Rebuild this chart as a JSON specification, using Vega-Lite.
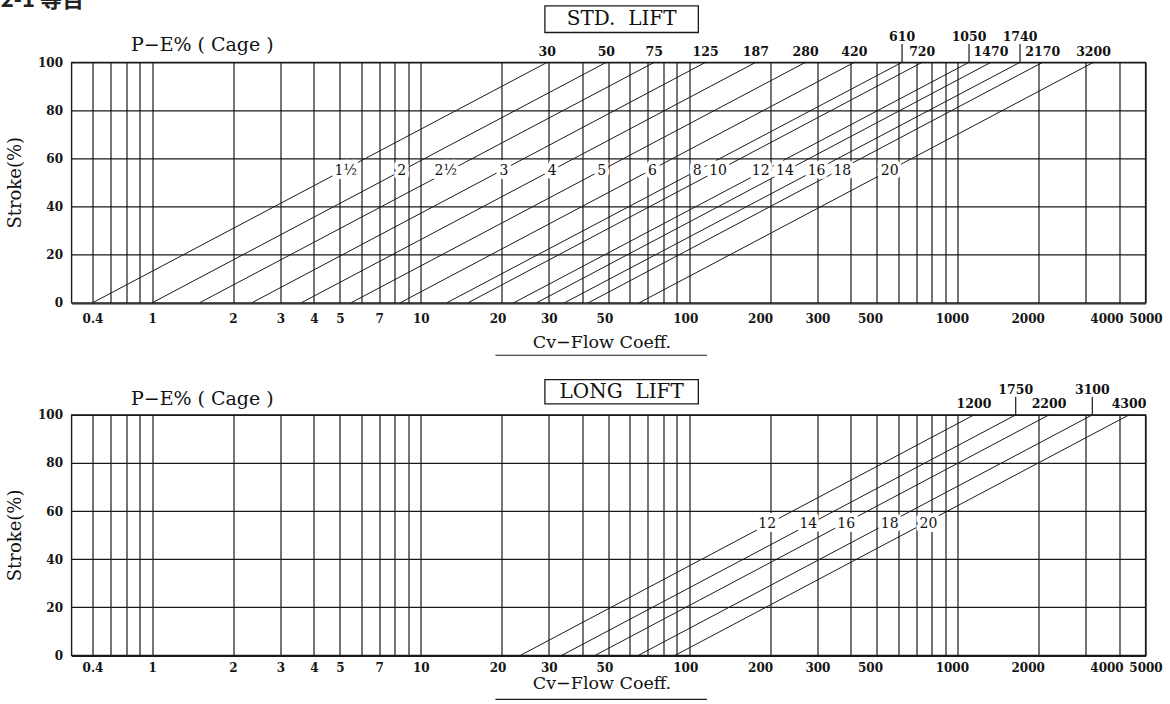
{
  "$schema": "https://vega.github.io/schema/vega-lite/v6.json",
  "padding": {"left": -0.5, "top": -11.7, "right": 0, "bottom": 0},
  "bounds": "flush",
  "spacing": 111.6,
  "config": {
    "view": {"stroke": "#1a1a1a", "strokeWidth": 1.4},
    "font": "DejaVu Serif",
    "axis": {"grid": true, "gridColor": "#1a1a1a", "gridWidth": 1.2, "gridOpacity": 1, "ticks": false, "tickSize": 0, "domain": false,
      "labelFont": "DejaVu Serif", "labelFontSize": 12, "labelFontWeight": "bold", "labelColor": "#151515", "titleFont": "DejaVu Serif", "titleFontSize": 18,
      "titleFontWeight": "normal", "titleColor": "#111", "labelOverlap": false, "labelBound": false, "labelFlush": false},
    "text": {"font": "DejaVu Serif", "color": "#111"}
  },
  "datasets": {
    "std": [
      {"size": "1½", "cv0": 0.4, "cvTop": 29.6, "cvmax": "30", "tier": "low", "lx": 5.26},
      {"size": "2", "cv0": 1.0, "cvTop": 49.1, "cvmax": "50", "tier": "low", "lx": 8.5},
      {"size": "2½", "cv0": 1.5, "cvTop": 74.1, "cvmax": "75", "tier": "low", "lx": 12.4},
      {"size": "3", "cv0": 2.35, "cvTop": 115, "cvmax": "125", "tier": "low", "lx": 20.4},
      {"size": "4", "cv0": 3.59, "cvTop": 177, "cvmax": "187", "tier": "low", "lx": 30.9},
      {"size": "5", "cv0": 5.5, "cvTop": 271, "cvmax": "280", "tier": "low", "lx": 47.2},
      {"size": "6", "cv0": 8.38, "cvTop": 412, "cvmax": "420", "tier": "low", "lx": 72.9},
      {"size": "8", "cv0": 12.5, "cvTop": 620, "cvmax": "610", "tier": "high", "lx": 107},
      {"size": "10", "cv0": 15.0, "cvTop": 737, "cvmax": "720", "tier": "low", "lx": 128},
      {"size": "12", "cv0": 22.2, "cvTop": 1101, "cvmax": "1050", "tier": "high", "lx": 184.5},
      {"size": "14", "cv0": 27.0, "cvTop": 1329, "cvmax": "1470", "tier": "low", "lx": 227},
      {"size": "16", "cv0": 34.3, "cvTop": 1705, "cvmax": "1740", "tier": "high", "lx": 298},
      {"size": "18", "cv0": 42.1, "cvTop": 2071, "cvmax": "2170", "tier": "low", "lx": 371.5},
      {"size": "20", "cv0": 65.1, "cvTop": 3202, "cvmax": "3200", "tier": "low", "lx": 558}
    ],
    "long": [
      {"size": "12", "cv0": 23.5, "cvTop": 1149, "cvmax": "1200", "tier": "low", "lx": 195},
      {"size": "14", "cv0": 33.5, "cvTop": 1643, "cvmax": "1750", "tier": "high", "lx": 277.5},
      {"size": "16", "cv0": 44.6, "cvTop": 2186, "cvmax": "2200", "tier": "low", "lx": 384},
      {"size": "18", "cv0": 64.6, "cvTop": 3169, "cvmax": "3100", "tier": "high", "lx": 558},
      {"size": "20", "cv0": 88.5, "cvTop": 4341, "cvmax": "4300", "tier": "low", "lx": 777}
    ]
  },
  "vconcat": [
    {
      "width": 1074, "height": 240.5,
      "data": {"name": "std"},
      "layer": [
        {"mark": {"type": "rule", "color": "#1a1a1a", "strokeWidth": 1},
         "encoding": {
           "x": {"field": "cv0", "type": "quantitative",
             "scale": {"type": "log", "domain": [0.3, 0.4, 0.5, 0.6, 0.8, 1, 5000], "range": [0, 21, 39, 54.7, 68.4, 80.7, 1074], "nice": false},
             "axis": {"values": [0.4,0.5,0.6,0.8,1,2,3,4,5,6,7,8,9,10,20,30,40,50,60,70,80,90,100,200,300,400,500,600,700,800,900,1000,2000,3000,4000,5000],
               "format": "~g",
               "labelExpr": "indexof([0.4,1,2,3,4,5,7,10,20,30,50,100,200,300,500,1000,2000,4000,5000], datum.value) >= 0 ? datum.label : ''",
               "labelBaseline": "middle", "labelPadding": 15.6,
               "labelOffset": {"condition": [
                 {"test": "datum.value == 200", "value": -10},
                 {"test": "datum.value == 500", "value": -7},
                 {"test": "datum.value == 1000", "value": -6},
                 {"test": "datum.value == 2000", "value": -11},
                 {"test": "datum.value == 4000", "value": -13},
                 {"test": "datum.value == 100 || datum.value == 50 || datum.value == 20", "value": -4}
               ], "value": 0},
               "title": "Cv−Flow Coeff.", "titleFontSize": 17.5, "titleX": 530, "titleY": 39.5, "titleBaseline": "middle", "titleAlign": "center"}},
           "x2": {"field": "cvTop"},
           "y": {"datum": 0, "type": "quantitative", "scale": {"domain": [0, 100], "nice": false, "zero": false},
             "axis": {"values": [0,10,20,30,40,50,60,70,80,90,100], "labelExpr": "datum.value % 20 == 0 ? datum.label : ''",
               "labelPadding": 9, "title": "Stroke(%)", "titleX": -56, "titleY": 120, "titleAngle": -90, "titleBaseline": "middle", "titleAlign": "center"}},
           "y2": {"datum": 100}
         }},
        {"transform": [{"filter": "datum.tier == 'low'"}],
         "mark": {"type": "text", "fontSize": 12.5, "fontWeight": "bold", "baseline": "middle"},
         "encoding": {"x": {"field": "cvTop", "type": "quantitative"}, "y": {"datum": 104.2}, "text": {"field": "cvmax", "type": "nominal"}}},
        {"transform": [{"filter": "datum.tier == 'high'"}],
         "mark": {"type": "text", "fontSize": 12.5, "fontWeight": "bold", "baseline": "middle"},
         "encoding": {"x": {"field": "cvTop", "type": "quantitative"}, "y": {"datum": 110.4}, "text": {"field": "cvmax", "type": "nominal"}}},
        {"transform": [{"filter": "datum.tier == 'high'"}],
         "mark": {"type": "rule", "color": "#1a1a1a", "strokeWidth": 1.2},
         "encoding": {"x": {"field": "cvTop", "type": "quantitative"}, "y": {"datum": 100}, "y2": {"datum": 107.6}}},
        {"mark": {"type": "text", "fontSize": 14, "baseline": "middle", "stroke": "white", "strokeWidth": 8, "strokeJoin": "round", "color": "white"},
         "encoding": {"x": {"field": "lx", "type": "quantitative"}, "y": {"datum": 54.6}, "text": {"field": "size", "type": "nominal"}}},
        {"mark": {"type": "text", "fontSize": 14, "baseline": "middle"},
         "encoding": {"x": {"field": "lx", "type": "quantitative"}, "y": {"datum": 54.6}, "text": {"field": "size", "type": "nominal"}}},
        {"data": {"values": [{"box": "STD.  LIFT"}]},
         "mark": {"type": "rect", "fill": "white", "stroke": "#1a1a1a", "strokeWidth": 1.3},
         "encoding": {"x": {"datum": 29.0}, "x2": {"datum": 108.1}, "y": {"datum": 112.4}, "y2": {"datum": 123.5}}},
        {"data": {"values": [{"box": "STD.  LIFT"}]},
         "mark": {"type": "text", "fontSize": 20, "baseline": "middle"},
         "encoding": {"x": {"datum": 56.0}, "y": {"datum": 117.9}, "text": {"value": "STD.\u00a0\u00a0LIFT"}}},
        {"data": {"values": [{"t": "P−E% ( Cage )"}]},
         "mark": {"type": "text", "fontSize": 19, "baseline": "middle"},
         "encoding": {"x": {"datum": 1.537}, "y": {"datum": 107.1}, "text": {"field": "t", "type": "nominal"}}},
        {"data": {"values": [{"t": "2-1 等百"}]},
         "mark": {"type": "text", "font": "Noto Sans CJK SC", "fontSize": 22, "fontWeight": "bold", "baseline": "alphabetic", "align": "left", "color": "#222"},
         "encoding": {"x": {"datum": 0.114}, "y": {"datum": 122.9}, "text": {"field": "t", "type": "nominal"}}},
        {"data": {"values": [{"u": 1}]},
         "mark": {"type": "rule", "color": "#1a1a1a", "strokeWidth": 1.2},
         "encoding": {"x": {"datum": 18.97}, "x2": {"datum": 116.4}, "y": {"datum": -21.8}}}
      ]
    },
    {
      "width": 1074, "height": 240.5,
      "data": {"name": "long"},
      "layer": [
        {"mark": {"type": "rule", "color": "#1a1a1a", "strokeWidth": 1},
         "encoding": {
           "x": {"field": "cv0", "type": "quantitative",
             "scale": {"type": "log", "domain": [0.3, 0.4, 0.5, 0.6, 0.8, 1, 5000], "range": [0, 21, 39, 54.7, 68.4, 80.7, 1074], "nice": false},
             "axis": {"values": [0.4,0.5,0.6,0.8,1,2,3,4,5,6,7,8,9,10,20,30,40,50,60,70,80,90,100,200,300,400,500,600,700,800,900,1000,2000,3000,4000,5000],
               "format": "~g",
               "labelExpr": "indexof([0.4,1,2,3,4,5,7,10,20,30,50,100,200,300,500,1000,2000,4000,5000], datum.value) >= 0 ? datum.label : ''",
               "labelBaseline": "middle", "labelPadding": 11.7,
               "labelOffset": {"condition": [
                 {"test": "datum.value == 200", "value": -10},
                 {"test": "datum.value == 500", "value": -7},
                 {"test": "datum.value == 1000", "value": -6},
                 {"test": "datum.value == 2000", "value": -11},
                 {"test": "datum.value == 4000", "value": -13},
                 {"test": "datum.value == 100 || datum.value == 50 || datum.value == 20", "value": -4}
               ], "value": 0},
               "title": "Cv−Flow Coeff.", "titleFontSize": 17.5, "titleX": 530, "titleY": 28, "titleBaseline": "middle", "titleAlign": "center"}},
           "x2": {"field": "cvTop"},
           "y": {"datum": 0, "type": "quantitative", "scale": {"domain": [0, 100], "nice": false, "zero": false},
             "axis": {"values": [0,10,20,30,40,50,60,70,80,90,100], "labelExpr": "datum.value % 20 == 0 ? datum.label : ''",
               "labelPadding": 9, "title": "Stroke(%)", "titleX": -56, "titleY": 120, "titleAngle": -90, "titleBaseline": "middle", "titleAlign": "center"}},
           "y2": {"datum": 100}
         }},
        {"transform": [{"filter": "datum.tier == 'low'"}],
         "mark": {"type": "text", "fontSize": 12.5, "fontWeight": "bold", "baseline": "middle"},
         "encoding": {"x": {"field": "cvTop", "type": "quantitative"}, "y": {"datum": 104.5}, "text": {"field": "cvmax", "type": "nominal"}}},
        {"transform": [{"filter": "datum.tier == 'high'"}],
         "mark": {"type": "text", "fontSize": 12.5, "fontWeight": "bold", "baseline": "middle"},
         "encoding": {"x": {"field": "cvTop", "type": "quantitative"}, "y": {"datum": 110.3}, "text": {"field": "cvmax", "type": "nominal"}}},
        {"transform": [{"filter": "datum.tier == 'high'"}],
         "mark": {"type": "rule", "color": "#1a1a1a", "strokeWidth": 1.2},
         "encoding": {"x": {"field": "cvTop", "type": "quantitative"}, "y": {"datum": 100}, "y2": {"datum": 107.5}}},
        {"mark": {"type": "text", "fontSize": 14, "baseline": "middle", "stroke": "white", "strokeWidth": 8, "strokeJoin": "round", "color": "white"},
         "encoding": {"x": {"field": "lx", "type": "quantitative"}, "y": {"datum": 54.6}, "text": {"field": "size", "type": "nominal"}}},
        {"mark": {"type": "text", "fontSize": 14, "baseline": "middle"},
         "encoding": {"x": {"field": "lx", "type": "quantitative"}, "y": {"datum": 54.6}, "text": {"field": "size", "type": "nominal"}}},
        {"data": {"values": [{"box": "LONG  LIFT"}]},
         "mark": {"type": "rect", "fill": "white", "stroke": "#1a1a1a", "strokeWidth": 1.3},
         "encoding": {"x": {"datum": 29.0}, "x2": {"datum": 108.1}, "y": {"datum": 104.6}, "y2": {"datum": 114.7}}},
        {"data": {"values": [{"box": "LONG  LIFT"}]},
         "mark": {"type": "text", "fontSize": 20, "baseline": "middle"},
         "encoding": {"x": {"datum": 56.0}, "y": {"datum": 109.7}, "text": {"value": "LONG\u00a0\u00a0LIFT"}}},
        {"data": {"values": [{"t": "P−E% ( Cage )"}]},
         "mark": {"type": "text", "fontSize": 19, "baseline": "middle"},
         "encoding": {"x": {"datum": 1.537}, "y": {"datum": 106.8}, "text": {"field": "t", "type": "nominal"}}},
        {"data": {"values": [{"u": 1}]},
         "mark": {"type": "rule", "color": "#1a1a1a", "strokeWidth": 1.2},
         "encoding": {"x": {"datum": 18.97}, "x2": {"datum": 116.4}, "y": {"datum": -18.3}}}
      ]
    }
  ]
}
